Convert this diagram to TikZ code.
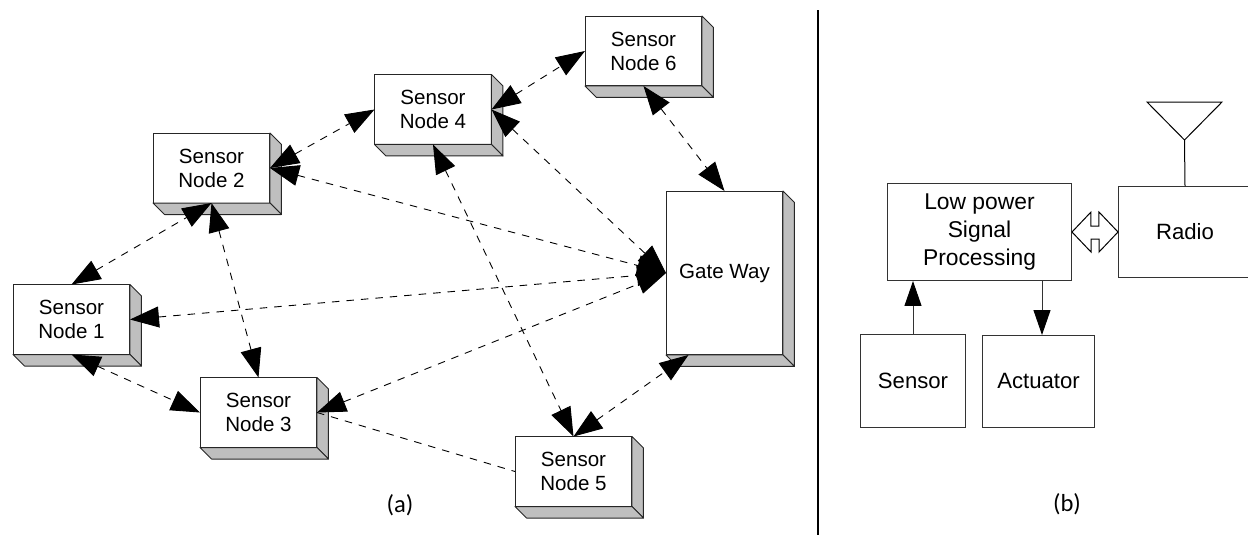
\documentclass[tikz,border=0pt]{standalone}
\usepackage{fontspec}
\setmainfont{Liberation Sans}
\newfontfamily\capfont{Carlito}
\usetikzlibrary{arrows.meta}
\tikzset{
	sensorbox/.style={draw=black!85,fill=white,line width=0.02cm,inner sep=0pt,outer sep=0pt,align=center,minimum width=2.34cm,minimum height=1.4cm,font=\fontsize{11.7pt}{13.7pt}\selectfont},
	plainbox/.style={draw=black!80,line width=0.02cm,inner sep=0pt,outer sep=0pt,align=center,font=\fontsize{12.6pt}{16pt}\selectfont},
	face/.style={draw=black!85,fill=black!25,line width=0.02cm,line join=round},
	dashline/.style={dash pattern=on 0.15cm off 0.14cm,line width=0.018cm},
	link/.style={dashline,{Triangle[length=0.58cm,width=0.42cm]}-{Triangle[length=0.58cm,width=0.42cm]}},
	oneway/.style={line width=0.02cm,draw=black!80,-{Triangle[length=0.5cm,width=0.34cm,color=black]}},
	caption/.style={font=\capfont\fontsize{14pt}{16pt}\selectfont}
}
\begin{document}
\begin{tikzpicture}[x=0.02cm,y=-0.02cm]
	\useasboundingbox (0,0) rectangle (1248,535);
	\node [sensorbox] (n1) at (71.5,319.5) {Sensor\\Node 1};
	\node [sensorbox] (n2) at (211.5,168) {Sensor\\Node 2};
	\node [sensorbox] (n3) at (258.5,412.5) {Sensor\\Node 3};
	\node [sensorbox] (n4) at (433,109.5) {Sensor\\Node 4};
	\node [sensorbox] (n5) at (573.5,471.5) {Sensor\\Node 5};
	\node [sensorbox] (n6) at (643.5,51) {Sensor\\Node 6};
	\node [sensorbox,minimum height=3.28cm] (gate) at (724.5,273) {Gate Way};
	\foreach \n in {n1,n2,n3,n4,n5,n6,gate} {
		\draw [face] (\n.north east) -- ([shift={(11.5,11.5)}]\n.north east) -- ([shift={(11.5,11.5)}]\n.south east) -- (\n.south east) -- cycle;
		\draw [face] (\n.south west) -- ([shift={(11.5,11.5)}]\n.south west) -- ([shift={(11.5,11.5)}]\n.south east) -- (\n.south east) -- cycle;
	}
	\draw [link] (n1.north) -- (n2.south);
	\draw [link] (n2.south) -- (n3.north);
	\draw [link] (n1.south) -- (n3.west);
	\draw [link] (n2.east) -- (n4.west);
	\draw [link] (n2.east) -- (gate.west);
	\draw [link] (n1.east) -- (gate.west);
	\draw [link] (n3.east) -- (gate.west);
	\draw [link] (n4.east) -- (gate.west);
	\draw [link] (n4.east) -- (n6.west);
	\draw [link] (n6.south) -- (gate.north);
	\draw [link] (n4.south) -- (n5.north);
	\draw [link] (n5.north) -- ([xshift=-0.72cm]gate.south);
	\draw [dashline] (n3.east) -- (n5.west);
	\node [caption] (capa) at (400,505) {(a)};
	\coordinate (divtop) at (818,10);
	\coordinate (divbot) at (818,535);
	\draw [line width=0.05cm] (divtop) -- (divbot);
	\node [plainbox,minimum width=3.7cm,minimum height=1.96cm,font=\fontsize{13pt}{16pt}\selectfont] (lowpower) at (979.5,232) {Low power\\Signal\\Processing};
	\node [plainbox,minimum width=2.68cm,minimum height=1.84cm] (radio) at (1185,232) {Radio};
	\node [plainbox,minimum width=2.12cm,minimum height=1.86cm] (sensor) at (913,380.5) {Sensor};
	\node [plainbox,minimum width=2.26cm,minimum height=1.84cm] (actuator) at (1038.5,381) {Actuator};
	\draw [oneway] (sensor.north) -- (sensor.north |- lowpower.south);
	\draw [oneway] ([xshift=0.07cm]actuator.north |- lowpower.south) -- ([xshift=0.07cm]actuator.north);
	\draw [line width=0.02cm,line join=miter] (lowpower.east) -- ++(19,-20) -- ++(0,14) -- ++(8,0) -- ++(0,-14) -- (radio.west) -- ++(-19,20) -- ++(0,-13) -- ++(-8,0) -- ++(0,13) -- cycle;
	\coordinate (ant) at (1184.5,140);
	\draw [line width=0.02cm] (radio.north) -- (ant);
	\draw [line width=0.02cm] (ant) -- (1147,102) -- (1222,102) -- cycle;
	\node [caption] (capb) at (1067,504) {(b)};
\end{tikzpicture}
\end{document}
